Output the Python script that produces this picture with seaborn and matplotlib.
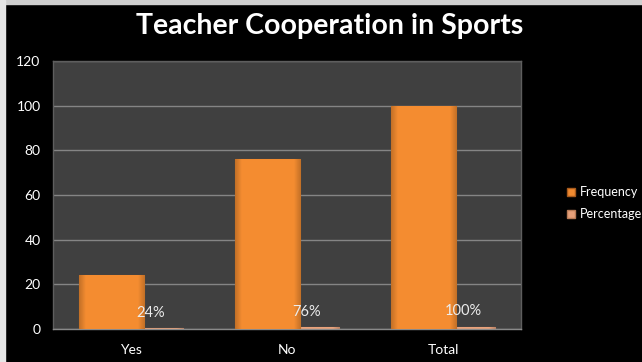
import numpy as np
import pandas as pd
import matplotlib
matplotlib.use("Agg")
import matplotlib.pyplot as plt
import seaborn as sns
from matplotlib.colors import to_rgb
from matplotlib.patches import Rectangle, Patch

categories = ["Yes", "No", "Total"]
frequency = [24, 76, 100]
percentage = [0.24, 0.76, 1.00]
y_ticks = [0, 20, 40, 60, 80, 100, 120]

FREQ_COLOR = "#f08a30"
PCT_COLOR = "#e6a07a"

sns.set_theme(style="dark")
plt.rcParams["font.family"] = ["Lato", "DejaVu Sans"]

fig = plt.figure(figsize=(6.42, 3.62), dpi=100, facecolor="black")
ax = fig.add_axes([53 / 642, 33 / 362, 468 / 642, 268 / 362])
ax.set_facecolor("#404040")

# two overlapping series, each shifted a little from the category centre
shift = 0.128
width = 0.417
pos = np.arange(len(categories))
freq_df = pd.DataFrame({"x": pos - shift, "y": frequency})
pct_df = pd.DataFrame({"x": pos + shift, "y": percentage})

sns.barplot(data=pct_df, x="x", y="y", native_scale=True, width=width,
            color=PCT_COLOR, edgecolor="#b77a55", linewidth=0.8,
            ax=ax, zorder=2)
n_pct = len(ax.patches)
sns.barplot(data=freq_df, x="x", y="y", native_scale=True, width=width,
            color=FREQ_COLOR, edgecolor="#a85a1c", linewidth=0.8,
            ax=ax, zorder=3)


def shade(base, n=64):
    """Horizontal bevel: darker toward both sides, bright in the middle."""
    r, g, b = to_rgb(base)
    t = np.linspace(0, 1, n)
    f = 0.82 + 0.2 * np.clip(np.minimum(t, 1 - t) / 0.1, 0, 1)
    img = np.zeros((2, n, 3))
    for i, c in enumerate((r, g, b)):
        img[:, :, i] = np.clip(c * f, 0, 1)
    return img


for i, p in enumerate(ax.patches):
    base = PCT_COLOR if i < n_pct else FREQ_COLOR
    x0, y0 = p.get_x(), p.get_y()
    w, h = p.get_width(), p.get_height()
    im = ax.imshow(shade(base), extent=[x0, x0 + w, y0, y0 + h],
                   aspect="auto", zorder=p.get_zorder() + 0.1,
                   interpolation="bilinear")
    im.set_clip_path(p)

ax.set_xlim(-0.5, len(categories) - 0.5)
ax.set_ylim(y_ticks[0], y_ticks[-1])
ax.set_aspect("auto")
ax.set_xticks(pos)
ax.set_xticklabels(categories)
ax.set_yticks(y_ticks)
ax.set_xlabel("")
ax.set_ylabel("")
ax.tick_params(axis="both", colors="white", labelsize=10, length=0)
ax.tick_params(axis="y", pad=9)
ax.tick_params(axis="x", pad=11)

ax.yaxis.grid(True, color="#858585", linewidth=1)
ax.xaxis.grid(False)
ax.set_axisbelow(True)
for side in ("top", "left", "right"):
    ax.spines[side].set_visible(True)
    ax.spines[side].set_color("#5e5e5e")
    ax.spines[side].set_linewidth(1)
ax.spines["bottom"].set_color("#8a8a8a")
ax.spines["bottom"].set_linewidth(1)

# percentage labels above the thin bars
for x, v in zip(pct_df["x"], percentage):
    ax.annotate(f"{v:.0%}", xy=(x, v), xytext=(0, 11),
                textcoords="offset points", ha="center", va="center",
                color="#ececec", fontsize=10.5, zorder=6)

fig.text(329.5 / 642, 1 - 26 / 362, "Teacher Cooperation in Sports",
         ha="center", va="center", color="white", fontsize=20.5,
         fontweight="bold")

handles = [Patch(facecolor=FREQ_COLOR, edgecolor="#a85a1c", label="Frequency"),
           Patch(facecolor=PCT_COLOR, edgecolor="#b77a55", label="Percentage")]
fig.legend(handles=handles, loc="center left",
           bbox_to_anchor=(567 / 642, 1 - 203 / 362),
           frameon=False, fontsize=9, labelcolor="white",
           handlelength=0.6, handleheight=0.6, handletextpad=0.4,
           labelspacing=0.8, borderpad=0, borderaxespad=0)

# light frame strips along the top and left edges
fig.patches.append(Rectangle((0, 1 - 4 / 362), 1, 4 / 362,
                             transform=fig.transFigure, color="#cfcfcf",
                             zorder=10))
fig.patches.append(Rectangle((0, 0), 5 / 642, 1,
                             transform=fig.transFigure, color="#e6e6e6",
                             zorder=10))

fig.savefig("out.png", dpi=100, facecolor="black")
